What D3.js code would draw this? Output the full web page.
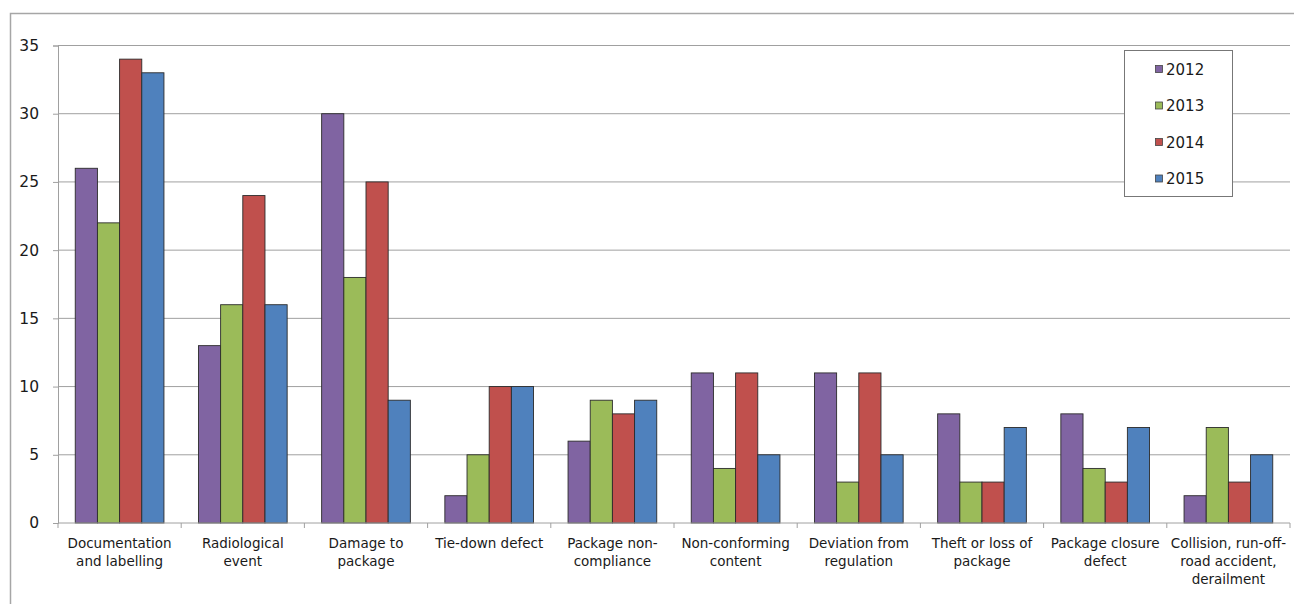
<!DOCTYPE html>
<html><head><meta charset="utf-8">
<script src="https://cdn.jsdelivr.net/npm/d3@7"></script>
<style>
html,body{margin:0;padding:0;background:#fff;}
svg{display:block;font-family:"DejaVu Sans",Verdana,sans-serif;}
</style></head>
<body>
<svg id="c" width="1294" height="604"></svg>
<script>
const categories = [
  ["Documentation","and labelling"],
  ["Radiological","event"],
  ["Damage to","package"],
  ["Tie-down defect"],
  ["Package non-","compliance"],
  ["Non-conforming","content"],
  ["Deviation from","regulation"],
  ["Theft or loss of","package"],
  ["Package closure","defect"],
  ["Collision, run-off-","road accident,","derailment"]
];
const years = ["2012","2013","2014","2015"];
const colors = ["#8064A2","#9BBB59","#C0504D","#4F81BD"];
const v2012 = [26,13,30,2,6,11,11,8,8,2];
const v2013 = [22,16,18,5,9,4,3,3,4,7];
const v2014 = [34,24,25,10,8,11,11,3,3,3];
const v2015 = [33,16,9,10,9,5,5,7,7,5];
const series = [v2012,v2013,v2014,v2015];
const yTicks = [0,5,10,15,20,25,30,35];

const svg = d3.select("#c");
const pLeft = 58, pRight = 1290, pTop = 45.5, pBottom = 523;

// outer border
svg.append("rect").attr("x",10.5).attr("y",13.5).attr("width",1300).attr("height",640)
  .attr("fill","none").attr("stroke","#a6a6a6").attr("stroke-width",1.5);

const x0 = d3.scaleBand().domain(d3.range(categories.length)).range([pLeft,pRight]).padding(0);
const inner = x0.bandwidth()*0.72;
const x1 = d3.scaleBand().domain(d3.range(4)).range([(x0.bandwidth()-inner)/2,(x0.bandwidth()+inner)/2]).padding(0);
const y = d3.scaleLinear().domain([0,35]).range([pBottom,pTop]);

// gridlines
svg.append("g").selectAll("line").data(yTicks.filter(t=>t>0)).join("line")
  .attr("x1",pLeft).attr("x2",pRight).attr("y1",d=>y(d)).attr("y2",d=>y(d))
  .attr("stroke","#a0a0a0").attr("stroke-width",1);

// y axis
const ya = svg.append("g").attr("transform",`translate(${pLeft},0)`)
  .call(d3.axisLeft(y).tickValues(yTicks).tickSize(5).tickPadding(14));
ya.select(".domain").attr("stroke","#a0a0a0");
ya.selectAll(".tick line").attr("stroke","#a0a0a0");
ya.selectAll("text").attr("font-size",15.5).attr("fill","#1a1a1a").attr("font-family","DejaVu Sans");

// bars
const g = svg.append("g");
categories.forEach((c,i)=>{
  series.forEach((s,j)=>{
    g.append("rect")
      .attr("x",x0(i)+x1(j)).attr("width",x1.bandwidth())
      .attr("y",y(s[i])).attr("height",y(0)-y(s[i]))
      .attr("fill",colors[j]).attr("stroke","#2b2b2b").attr("stroke-width",0.9);
  });
});

// x axis
svg.append("line").attr("x1",pLeft).attr("x2",pRight).attr("y1",pBottom).attr("y2",pBottom)
  .attr("stroke","#a0a0a0");
svg.append("g").selectAll("line").data(d3.range(categories.length+1)).join("line")
  .attr("x1",d=>pLeft+d*x0.bandwidth()).attr("x2",d=>pLeft+d*x0.bandwidth())
  .attr("y1",pBottom).attr("y2",pBottom+5).attr("stroke","#a0a0a0");

const lab = svg.append("g");
categories.forEach((c,i)=>{
  const t = lab.append("text").attr("text-anchor","middle").attr("font-size",13.5).attr("fill","#1a1a1a")
    .attr("x",x0(i)+x0.bandwidth()/2);
  c.forEach((line,k)=>{
    t.append("tspan").attr("x",x0(i)+x0.bandwidth()/2).attr("y",548+k*18).text(line);
  });
});

// legend
const lg = svg.append("g");
lg.append("rect").attr("x",1124.5).attr("y",50.5).attr("width",108).attr("height",146)
  .attr("fill","#fff").attr("stroke","#777");
years.forEach((yr,j)=>{
  const cy = 69 + j*36.5;
  lg.append("rect").attr("x",1155.5).attr("y",cy-3.5).attr("width",7).attr("height",7)
    .attr("fill",colors[j]).attr("stroke","#444").attr("stroke-width",0.8);
  lg.append("text").attr("x",1166).attr("y",cy+5.5).attr("font-size",15).attr("fill","#1a1a1a").text(yr);
});
</script>
</body></html>
